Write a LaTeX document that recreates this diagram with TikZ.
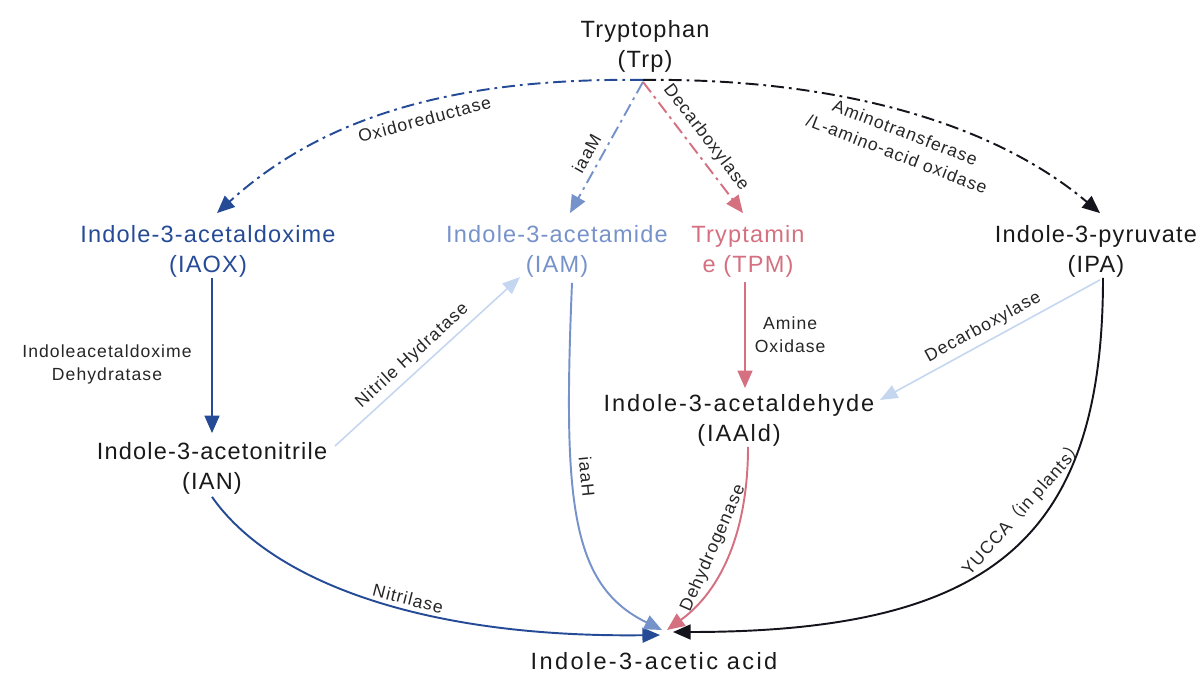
\documentclass[tikz,border=0pt]{standalone}
\usepackage{fontspec}
\setmainfont{Liberation Sans}
\newfontfamily\cmpdfont[LetterSpace=5]{Liberation Sans}
\newfontfamily\enzfont[LetterSpace=6]{Liberation Sans}
\newfontfamily\cjkparen{Noto Sans CJK SC}
\usetikzlibrary{arrows.meta,calc}

\definecolor{pwDark}{RGB}{38,75,150}
\definecolor{pwMid}{RGB}{118,146,203}
\definecolor{pwLight}{RGB}{196,214,240}
\definecolor{pwRose}{RGB}{212,112,128}
\definecolor{pwInk}{RGB}{20,20,28}

\newcommand\cmpd{\cmpdfont\fontsize{13.4}{17}\selectfont}
\newcommand\enz{\enzfont\fontsize{10}{13.2}\selectfont}

\tikzset{
  compound/.style={inner sep=0pt, outer sep=0pt, align=center, font=\cmpd, text=black!90},
  enzyme/.style={inner sep=1pt, font=\enz, text=black!85},
  flow/.style={line width=1.1pt, -{Triangle[length=10pt,width=8.5pt]}},
  thinflow/.style={line width=0.9pt, -{Triangle[length=10pt,width=8pt]}},
  dashdot/.style={dash pattern=on 7.4pt off 2.8pt on 1.6pt off 2.8pt},
}

\begin{document}
\begin{tikzpicture}[x=0.02cm, y=-0.02cm]
\useasboundingbox (0,0) rectangle (1200,675);

% compounds
\node[compound] (trp) at (645,46) {Tryptophan\\(Trp)};
\node[compound, text=pwDark] (iaox) at (208,251) {Indole-3-acetaldoxime\\(IAOX)};
\node[compound, text=pwMid] (iam) at (557,251) {Indole-3-acetamide\\(IAM)};
\node[compound, text=pwRose] (tpm) at (748,251) {Tryptamin\\e (TPM)};
\node[compound] (ipa) at (1096,251) {Indole-3-pyruvate\\(IPA)};
\node[compound] (ian) at (212,468) {Indole-3-acetonitrile\\(IAN)};
\node[compound, font={\cmpd\addfontfeature{LetterSpace=8}}] (iaald) at (739,420) {Indole-3-acetaldehyde\\(IAAld)};
\node[compound, font={\cmpd\addfontfeature{LetterSpace=10}}] (iaa) at (654,661) {Indole-3-acetic acid};

\coordinate (trpfoot) at ($(trp.south)+(-2,8)$);

% light side branches first
\draw[thinflow, pwLight] ($(ian)+(123,-22)$) -- ($(iam)+(-37,26)$)
  node[pos=0.47, sloped, above=2pt, enzyme] {Nitrile Hydratase};
\draw[thinflow, pwLight] ($(ipa.south)+(4,3)$) -- ($(iaald)+(141,-20)$)
  node[pos=0.5, sloped, above=2pt, enzyme] {Decarboxylase};

% from tryptophan
\draw[flow, dashdot, pwDark] (trpfoot) .. controls (470,78) and (330,110) .. ($(iaox.north)+(9,-12)$)
  node[pos=0.47, sloped, below=4pt, enzyme] {Oxidoreductase};
\draw[flow, dashdot, pwInk] (trpfoot) .. controls (830,78) and (990,120) .. ($(ipa.north)+(4,-12)$);
\node[enzyme, align=center, rotate=-21] (amlbl) at (901,143) {Aminotransferase\\/L-amino-acid oxidase};
\draw[flow, dashdot, pwMid] ($(trpfoot)+(0,2)$) -- ($(iam.north)+(13,-12)$)
  node[pos=0.6, sloped, above=3pt, enzyme] {iaaM};
\draw[flow, dashdot, pwRose] ($(trpfoot)+(0,2)$) -- ($(tpm.north)+(-5,-12)$)
  node[pos=0.5, sloped, above=3pt, enzyme] {Decarboxylase};

% second steps
\draw[flow, pwDark] ($(iaox.south)+(4,1)$) -- ($(ian.north)+(0,-9)$)
  node[pos=0.56, left=10pt, enzyme, align=center] {Indoleacetaldoxime\\Dehydratase};
\draw[flow, pwRose] ($(tpm.south)+(-3,5)$) -- ($(iaald.north)+(6,-6)$)
  node[midway, right=4pt, enzyme, align=center] {Amine\\Oxidase};

% into indole-3-acetic acid
\draw[flow, pwDark] ($(ian.south)+(0,3)$) .. controls (270,580) and (420,638) .. ($(iaa)+(6,-26)$)
  node[pos=0.58, sloped, above=1pt, enzyme] {Nitrilase};
\draw[flow, pwMid] ($(iam.south)+(15,6)$) .. controls (563,500) and (570,585) .. ($(iaa)+(8,-31)$)
  node[pos=0.38, sloped, above=3pt, enzyme] {iaaH};
\draw[flow, pwRose] ($(iaald.south)+(9,1)$) .. controls (748,530) and (722,590) .. ($(iaa)+(13,-31)$)
  node[pos=0.5, sloped, above=3pt, enzyme] {Dehydrogenase};
\draw[flow, pwInk] ($(ipa.south)+(7,1)$) .. controls (1103,540) and (990,632) .. ($(iaa)+(19,-29)$);
\node[enzyme, rotate=48.4] (yucca) at (1023,508) {YUCCA{\cjkparen （}in plants{\cjkparen ）}};
\end{tikzpicture}
\end{document}
